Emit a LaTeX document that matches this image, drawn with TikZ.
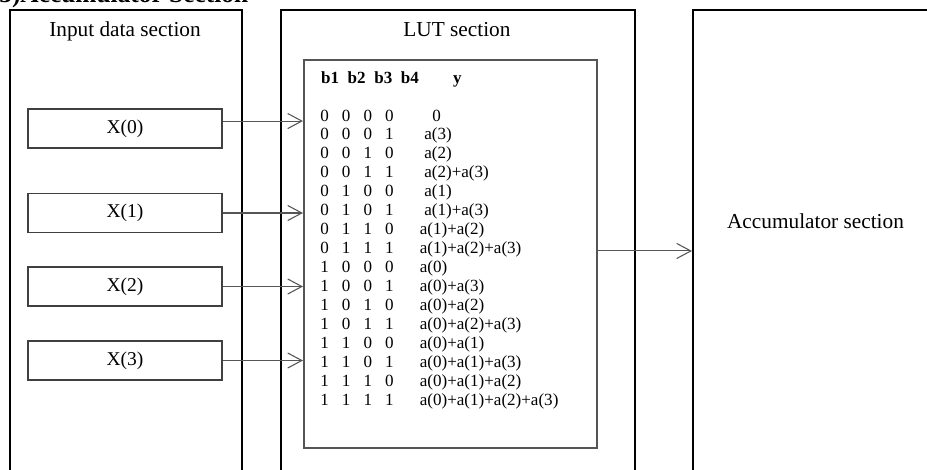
\documentclass[tikz,border=0pt]{standalone}
\usepackage{fontspec}
\setmainfont{Liberation Serif}
\usetikzlibrary{arrows.meta}

\definecolor{boxgray}{RGB}{64,64,64}
\definecolor{wiregray}{RGB}{85,85,85}

% строка таблицы: четыре бита с одинаковым шагом
\newcommand{\lutbits}[4]{\makebox[12.2pt]{#1}\makebox[12.2pt]{#2}\makebox[12.2pt]{#3}\makebox[12.2pt]{#4}}
\newcommand{\luthead}[4]{\makebox[15pt]{#1}\makebox[15pt]{#2}\makebox[15pt]{#3}\makebox[15pt]{#4}}

\tikzset{
	section/.style = { draw = black, line width = 1.1pt, anchor = north west, inner sep = 0 },
	title/.style = { inner sep = 0, font = \fontsize{12}{14}\selectfont },
	xbox/.style = { draw = boxgray, line width = 1pt, minimum width = 109.3pt, minimum height = 22pt, font = \fontsize{11}{13}\selectfont },
	lutbox/.style = { draw = wiregray, line width = 1.1pt, anchor = north west, minimum width = 165.1pt, minimum height = 218.6pt, inner sep = 0 },
	cell/.style = { inner sep = 0, font = \fontsize{9.6}{11}\selectfont },
	conn/.style = { draw = wiregray, line width = 0.6pt, -{Straight Barb[length = 8pt, width = 8.5pt, line width = 0.6pt]} }
}

\begin{document}
\begin{tikzpicture}[x = 0.5634pt, y = -0.5634pt]
	\useasboundingbox ( 0, 0 ) rectangle ( 927, 469 );

	% заголовок
	\node [inner sep = 0, anchor = base west, font = \fontsize{14.3}{16}\selectfont\bfseries] (cap) at ( -1, 2.5 ) {3)Accumulator Section};

	% секции
	\node [section, minimum width = 130.7pt, minimum height = 271pt] (inp) at ( 9, 9 ) {};
	\node [section, minimum width = 199.4pt, minimum height = 271pt] (lut) at ( 280, 9 ) {};
	\node [section, minimum width = 151pt, minimum height = 271pt] (acc) at ( 692, 9 ) {};
	\node [title, anchor = base] (inptitle) at ( 125, 36 ) {Input data section};
	\node [title, anchor = base] (luttitle) at ( 457, 36 ) {LUT section};
	\node [title, anchor = base] (acctitle) at ( 815.5, 228 ) {Accumulator section};

	% входные данные
	\node [xbox] (x0) at ( 125, 128.5 ) {X(0)};
	\node [xbox] (x1) at ( 125, 213 ) {X(1)};
	\node [xbox] (x2) at ( 125, 286.5 ) {X(2)};
	\node [xbox] (x3) at ( 125, 360.5 ) {X(3)};

	% таблица LUT
	\node [lutbox] (tab) at ( 303, 59 ) {};
	\node [cell, anchor = base, font = \fontsize{9.6}{11}\selectfont\bfseries] (head) at ( 370, 83 ) {\luthead{b1}{b2}{b3}{b4}};
	\node [cell, anchor = base, font = \fontsize{9.6}{11}\selectfont\bfseries] (heady) at ( 457.5, 83 ) {y};

	\node [cell, anchor = base] (b0)  at ( 357, 121.0 ) {\lutbits{0}{0}{0}{0}};
	\node [cell, anchor = base] (b1)  at ( 357, 139.9 ) {\lutbits{0}{0}{0}{1}};
	\node [cell, anchor = base] (b2)  at ( 357, 158.9 ) {\lutbits{0}{0}{1}{0}};
	\node [cell, anchor = base] (b3)  at ( 357, 177.8 ) {\lutbits{0}{0}{1}{1}};
	\node [cell, anchor = base] (b4)  at ( 357, 196.7 ) {\lutbits{0}{1}{0}{0}};
	\node [cell, anchor = base] (b5)  at ( 357, 215.7 ) {\lutbits{0}{1}{0}{1}};
	\node [cell, anchor = base] (b6)  at ( 357, 234.6 ) {\lutbits{0}{1}{1}{0}};
	\node [cell, anchor = base] (b7)  at ( 357, 253.5 ) {\lutbits{0}{1}{1}{1}};
	\node [cell, anchor = base] (b8)  at ( 357, 272.4 ) {\lutbits{1}{0}{0}{0}};
	\node [cell, anchor = base] (b9)  at ( 357, 291.4 ) {\lutbits{1}{0}{0}{1}};
	\node [cell, anchor = base] (b10) at ( 357, 310.3 ) {\lutbits{1}{0}{1}{0}};
	\node [cell, anchor = base] (b11) at ( 357, 329.2 ) {\lutbits{1}{0}{1}{1}};
	\node [cell, anchor = base] (b12) at ( 357, 348.2 ) {\lutbits{1}{1}{0}{0}};
	\node [cell, anchor = base] (b13) at ( 357, 367.1 ) {\lutbits{1}{1}{0}{1}};
	\node [cell, anchor = base] (b14) at ( 357, 386.0 ) {\lutbits{1}{1}{1}{0}};
	\node [cell, anchor = base] (b15) at ( 357, 405.0 ) {\lutbits{1}{1}{1}{1}};

	\node [cell, anchor = base] (y0) at ( 436.7, 121.0 ) {0};
	\node [cell, anchor = base west] (y1)  at ( 424, 139.9 ) {a(3)};
	\node [cell, anchor = base west] (y2)  at ( 424, 158.9 ) {a(2)};
	\node [cell, anchor = base west] (y3)  at ( 424, 177.8 ) {a(2)+a(3)};
	\node [cell, anchor = base west] (y4)  at ( 424, 196.7 ) {a(1)};
	\node [cell, anchor = base west] (y5)  at ( 424, 215.7 ) {a(1)+a(3)};
	\node [cell, anchor = base west] (y6)  at ( 419.5, 234.6 ) {a(1)+a(2)};
	\node [cell, anchor = base west] (y7)  at ( 419.5, 253.5 ) {a(1)+a(2)+a(3)};
	\node [cell, anchor = base west] (y8)  at ( 419.5, 272.4 ) {a(0)};
	\node [cell, anchor = base west] (y9)  at ( 419.5, 291.4 ) {a(0)+a(3)};
	\node [cell, anchor = base west] (y10) at ( 419.5, 310.3 ) {a(0)+a(2)};
	\node [cell, anchor = base west] (y11) at ( 419.5, 329.2 ) {a(0)+a(2)+a(3)};
	\node [cell, anchor = base west] (y12) at ( 419.5, 348.2 ) {a(0)+a(1)};
	\node [cell, anchor = base west] (y13) at ( 419.5, 367.1 ) {a(0)+a(1)+a(3)};
	\node [cell, anchor = base west] (y14) at ( 419.5, 386.0 ) {a(0)+a(1)+a(2)};
	\node [cell, anchor = base west] (y15) at ( 419.5, 405.0 ) {a(0)+a(1)+a(2)+a(3)};

	% связи
	\draw [conn] ([yshift=4.2pt]x0.east) -- ([yshift=4.2pt]x0.east -| tab.west);
	\draw [conn] (x1.east) -- (x1.east -| tab.west);
	\draw [conn] (x2.east) -- (x2.east -| tab.west);
	\draw [conn] (x3.east) -- (x3.east -| tab.west);
	\draw [conn] ([yshift=1.7pt]tab.east) -- ([yshift=1.7pt]tab.east -| acc.west);
\end{tikzpicture}
\end{document}
